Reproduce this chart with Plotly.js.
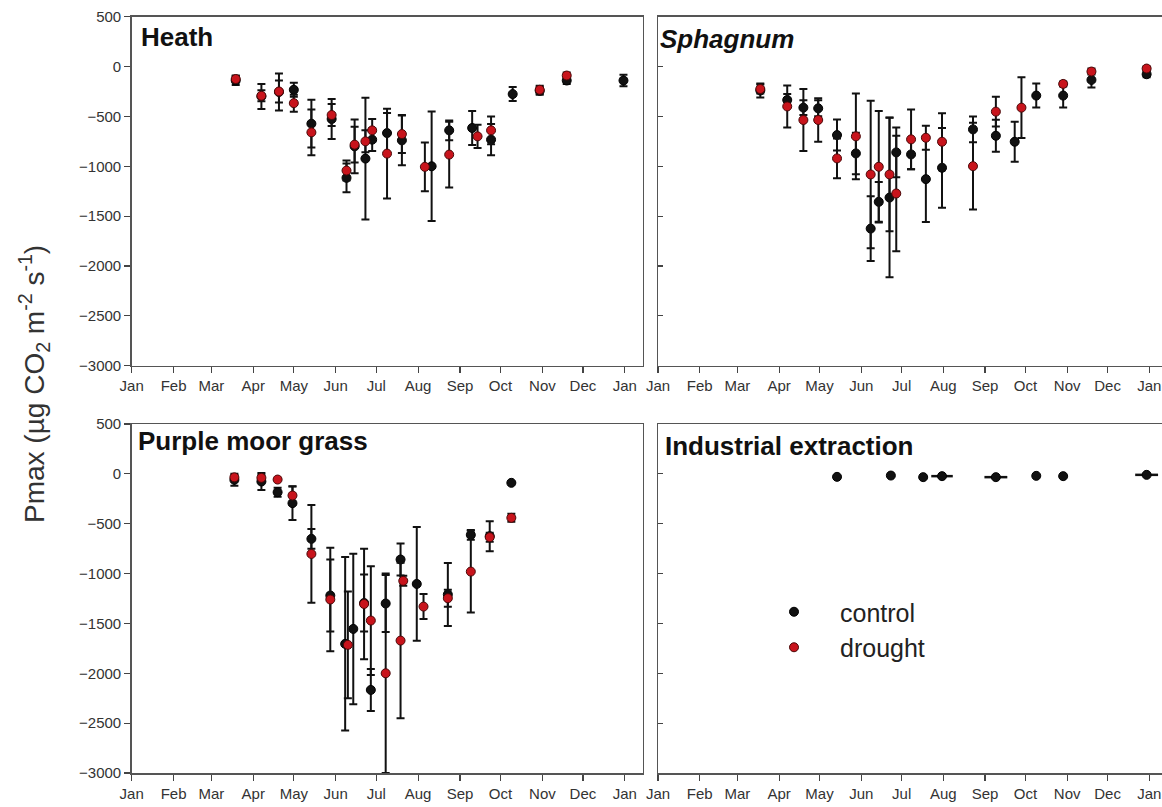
<!DOCTYPE html>
<html>
<head>
<meta charset="utf-8">
<script src="https://cdn.plot.ly/plotly-3.0.1.min.js"></script>
<style>
  html, body { margin: 0; padding: 0; background: #fff; }
  #chart { width: 1162px; height: 807px; }
</style>
</head>
<body>
<div id="chart"></div>
<script>
// ---------------- data ----------------
const monthTickDates = ['2011-01-01','2011-02-01','2011-03-01','2011-04-01','2011-05-01','2011-06-01',
  '2011-07-01','2011-08-01','2011-09-01','2011-10-01','2011-11-01','2011-12-01','2012-01-01'];
const monthTickLabels = ['Jan','Feb','Mar','Apr','May','Jun','Jul','Aug','Sep','Oct','Nov','Dec','Jan'];

// Heath
const heathControlDates = ['2011-03-19','2011-04-07','2011-04-20','2011-05-01','2011-05-14','2011-05-29','2011-06-09','2011-06-15','2011-06-23','2011-06-28','2011-07-09','2011-07-20','2011-08-11','2011-08-24','2011-09-10','2011-09-24','2011-10-10','2011-10-30','2011-11-19','2011-12-31'];
const heathControlVals  = [-140,-300,-255,-233,-573,-526,-1116,-800,-923,-733,-667,-740,-1000,-640,-616,-733,-276,-243,-140,-140];
const heathControlErr   = [45,125,185,70,240,200,145,270,610,115,200,250,550,100,170,157,70,40,35,58];
const heathDroughtDates = ['2011-03-19','2011-04-07','2011-04-20','2011-05-01','2011-05-14','2011-05-29','2011-06-09','2011-06-15','2011-06-23','2011-06-28','2011-07-09','2011-07-20','2011-08-06','2011-08-24','2011-09-14','2011-09-24','2011-10-30','2011-11-19'];
const heathDroughtVals  = [-125,-293,-250,-367,-660,-486,-1043,-783,-750,-640,-873,-677,-1006,-883,-700,-640,-233,-90];
const heathDroughtErr   = [35,55,110,85,230,110,100,180,110,115,450,190,245,330,117,140,40,30];

// Sphagnum
const sphagControlDates = ['2011-03-18','2011-04-07','2011-04-19','2011-04-30','2011-05-14','2011-05-28','2011-06-08','2011-06-14','2011-06-22','2011-06-27','2011-07-08','2011-07-19','2011-07-31','2011-08-23','2011-09-09','2011-09-23','2011-10-09','2011-10-29','2011-11-19','2011-12-30'];
const sphagControlVals  = [-240,-335,-412,-419,-687,-871,-1625,-1357,-1314,-861,-881,-1129,-1015,-630,-694,-754,-291,-291,-134,-77];
const sphagControlErr   = [70,60,75,80,156,208,325,200,800,250,150,430,400,130,160,200,120,120,75,30];
const sphagDroughtDates = ['2011-03-18','2011-04-07','2011-04-19','2011-04-30','2011-05-14','2011-05-28','2011-06-08','2011-06-14','2011-06-22','2011-06-27','2011-07-08','2011-07-19','2011-07-31','2011-08-23','2011-09-09','2011-09-28','2011-10-29','2011-11-19','2011-12-30'];
const sphagDroughtVals  = [-225,-400,-536,-536,-921,-700,-1082,-1005,-1082,-1273,-730,-714,-754,-999,-452,-412,-174,-50,-20];
const sphagDroughtErr   = [45,210,310,218,200,430,740,560,570,580,300,120,285,435,150,305,25,30,20];

// Purple moor grass
const grassControlDates = ['2011-03-18','2011-04-07','2011-04-19','2011-04-30','2011-05-14','2011-05-28','2011-06-08','2011-06-14','2011-06-22','2011-06-27','2011-07-08','2011-07-19','2011-07-31','2011-08-23','2011-09-09','2011-09-23','2011-10-09'];
const grassControlVals  = [-60,-77,-184,-294,-652,-1220,-1705,-1555,-1295,-2167,-1300,-859,-1104,-1210,-612,-625,-90];
const grassControlErr   = [60,85,45,170,100,360,870,755,285,210,285,160,570,315,50,150,0];
const grassDroughtDates = ['2011-03-18','2011-04-07','2011-04-19','2011-04-30','2011-05-14','2011-05-28','2011-06-10','2011-06-22','2011-06-27','2011-07-08','2011-07-19','2011-07-21','2011-08-05','2011-08-23','2011-09-09','2011-09-23','2011-10-09'];
const grassDroughtVals  = [-35,-40,-57,-217,-803,-1260,-1715,-1305,-1471,-2000,-1672,-1073,-1331,-1247,-980,-635,-441];
const grassDroughtErr   = [20,30,0,90,490,520,535,555,545,1000,780,50,125,85,410,45,40];

// Industrial extraction (control only)
const indControlDates = ['2011-05-14','2011-06-23','2011-07-17','2011-07-31','2011-09-09','2011-10-09','2011-10-29','2011-12-30'];
const indControlVals  = [-30,-17,-33,-23,-33,-20,-23,-10];
const indControlErrDays = [0,0,0,8,8.5,0,0,8.5];

// ---------------- styling / layout helpers ----------------
const W = 1162, H = 807;
const fx = px => px / W;
const fy = py => 1 - py / H;
const FONT = 'Liberation Sans, Arial, Helvetica, sans-serif';
const DAY_MS = 86400000;

const ctrlMarker = {color: '#111111', size: 9, line: {color: '#000000', width: 1}};
const drMarker   = {color: '#c8141c', size: 9, line: {color: '#4a0808', width: 1}};
const errStyle = arr => ({type: 'data', array: arr, visible: true, color: '#111111', thickness: 2, width: 4});

function pair(xa, ya, cD, cV, cE, dD, dV, dE, showLeg) {
  return [{
    type: 'scatter', mode: 'markers', x: cD, y: cV, xaxis: xa, yaxis: ya,
    name: 'control', legendgroup: 'control', showlegend: showLeg,
    marker: ctrlMarker, error_y: errStyle(cE), cliponaxis: false
  }, {
    type: 'scatter', mode: 'markers', x: dD, y: dV, xaxis: xa, yaxis: ya,
    name: 'drought', legendgroup: 'drought', showlegend: showLeg,
    marker: drMarker, error_y: errStyle(dE), cliponaxis: false
  }];
}

// horizontal (date) error segments for the industrial extraction panel, built from the data arrays
const shiftDate = (d, days) => new Date(Date.parse(d + 'T00:00:00Z') + days * DAY_MS).toISOString().slice(0, 19).replace('T', ' ');
const indSegX = [], indSegY = [];
indControlDates.forEach((d, i) => {
  const e = indControlErrDays[i];
  if (e > 0) { indSegX.push(shiftDate(d, -e), shiftDate(d, e), null); indSegY.push(indControlVals[i], indControlVals[i], null); }
});

const traces = [
  ...pair('x', 'y', heathControlDates, heathControlVals, heathControlErr, heathDroughtDates, heathDroughtVals, heathDroughtErr, true),
  ...pair('x2', 'y2', sphagControlDates, sphagControlVals, sphagControlErr, sphagDroughtDates, sphagDroughtVals, sphagDroughtErr, false),
  ...pair('x3', 'y3', grassControlDates, grassControlVals, grassControlErr, grassDroughtDates, grassDroughtVals, grassDroughtErr, false),
  {
    type: 'scatter', mode: 'lines', x: indSegX, y: indSegY, xaxis: 'x4', yaxis: 'y4',
    showlegend: false, hoverinfo: 'skip', line: {color: '#111111', width: 2.5}, connectgaps: false
  },
  {
    type: 'scatter', mode: 'markers', x: indControlDates, y: indControlVals, xaxis: 'x4', yaxis: 'y4',
    name: 'control', legendgroup: 'control', showlegend: false, marker: ctrlMarker
  }
];

const leftDom = [fx(131.7), fx(642.5)];
const rightDom = [fx(658), 1];
const topDom = [fy(365.7), fy(16.7)];
const botDom = [fy(773), fy(424)];
const tickFont = {family: FONT, size: 15, color: '#333'};

function xAxis(dom, anchor, rangeEnd) {
  return {
    domain: dom, anchor: anchor, type: 'date',
    range: ['2011-01-01', rangeEnd],
    tickmode: 'array', tickvals: monthTickDates, ticktext: monthTickLabels,
    ticks: 'outside', ticklen: 6, tickwidth: 1.2, tickcolor: '#444',
    showline: true, linecolor: '#555', linewidth: 1.5, mirror: true,
    showgrid: false, zeroline: false, tickfont: tickFont
  };
}
function yAxis(dom, anchor, left) {
  return {
    domain: dom, anchor: anchor, range: [-3000, 500],
    tickmode: 'linear', tick0: -3000, dtick: 500,
    ticks: left ? 'outside' : 'inside', ticklen: left ? 6 : 5, tickwidth: 1.2, tickcolor: '#444',
    showticklabels: left,
    showline: true, linecolor: '#555', linewidth: 1.5, mirror: left,
    showgrid: false, zeroline: false, tickfont: tickFont
  };
}

const titleFont = {family: FONT, size: 26, color: '#111'};
const layout = {
  width: W, height: H,
  margin: {l: 0, r: 0, t: 0, b: 0, autoexpand: false},
  paper_bgcolor: '#ffffff', plot_bgcolor: '#ffffff',
  font: {family: FONT, color: '#333'},
  xaxis: xAxis(leftDom, 'y', '2012-01-14 02:00'),
  yaxis: yAxis(topDom, 'x', true),
  xaxis2: xAxis(rightDom, 'y2', '2012-01-10 10:00'),
  yaxis2: yAxis(topDom, 'x2', false),
  xaxis3: xAxis(leftDom, 'y3', '2012-01-14 02:00'),
  yaxis3: yAxis(botDom, 'x3', true),
  xaxis4: xAxis(rightDom, 'y4', '2012-01-10 10:00'),
  yaxis4: yAxis(botDom, 'x4', false),
  showlegend: true,
  legend: {
    x: fx(748), y: fy(589), xanchor: 'left', yanchor: 'top',
    bgcolor: 'rgba(0,0,0,0)', borderwidth: 0,
    font: {family: FONT, size: 25, color: '#222'},
    itemwidth: 82, tracegroupgap: 0
  },
  annotations: [
    {text: '<b>Heath</b>', x: fx(139), y: fy(37), xref: 'paper', yref: 'paper', xanchor: 'left', yanchor: 'middle', showarrow: false, font: titleFont},
    {text: '<b><i>Sphagnum</i></b>', x: fx(658), y: fy(39), xref: 'paper', yref: 'paper', xanchor: 'left', yanchor: 'middle', showarrow: false, font: titleFont},
    {text: '<b>Purple moor grass</b>', x: fx(136), y: fy(441), xref: 'paper', yref: 'paper', xanchor: 'left', yanchor: 'middle', showarrow: false, font: titleFont},
    {text: '<b>Industrial extraction</b>', x: fx(663), y: fy(446), xref: 'paper', yref: 'paper', xanchor: 'left', yanchor: 'middle', showarrow: false, font: titleFont},
    {text: 'Pmax (µg CO<sub>2</sub> m<sup>-2</sup> s<sup>-1</sup>)', textangle: -90,
     x: fx(34), y: fy(384), xref: 'paper', yref: 'paper', xanchor: 'center', yanchor: 'middle', showarrow: false,
     font: {family: FONT, size: 28, color: '#333'}}
  ]
};

Plotly.newPlot('chart', traces, layout, {displayModeBar: false, staticPlot: true});
</script>
</body>
</html>
